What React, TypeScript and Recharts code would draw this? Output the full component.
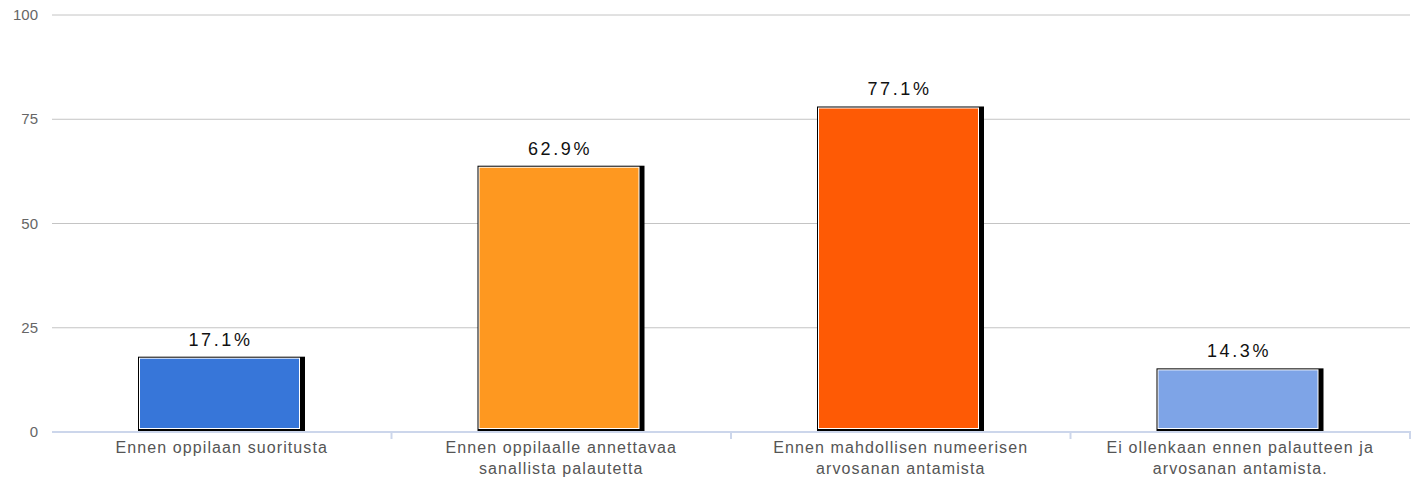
import { Bar, BarChart, CartesianGrid, LabelList, XAxis, YAxis } from "recharts";

const categories = [
  ["Ennen oppilaan suoritusta"],
  ["Ennen oppilaalle annettavaa", "sanallista palautetta"],
  ["Ennen mahdollisen numeerisen", "arvosanan antamista"],
  ["Ei ollenkaan ennen palautteen ja", "arvosanan antamista."]
];
const shares = [17.1, 62.9, 77.1, 14.3];
const barColors = ["#3776d9", "#fe9820", "#fe5a05", "#7ea4e7"];
const yTicks = [0, 25, 50, 75, 100];

const data = categories.map((lines, i) => ({
  name: lines.join(" "),
  lines,
  value: shares[i],
  color: barColors[i]
}));

const FONT = '"Liberation Sans", Arial, sans-serif';

// outlined bar with a heavy black edge on the right, like the original
const OutlinedBar = (props: any) => {
  const { x, y, width, height, payload } = props;
  const bottom = y + height;
  return (
    <g>
      <rect x={x} y={y - 4} width={width} height={bottom - 1 - (y - 4)} fill="#000" />
      <rect x={x + 1} y={y - 3} width={width - 6} height={bottom - 3 - (y - 3)} fill="#fff" />
      <rect x={x + 2} y={y - 2} width={width - 8} height={bottom - 4 - (y - 2)} fill={payload.color} />
    </g>
  );
};

const CategoryTick = (props: any) => {
  const { x, y, payload, index } = props;
  const lines = data[index]?.lines ?? [payload.value];
  const half = 339.5 / 2;
  return (
    <g>
      <line x1={x + half} x2={x + half} y1={y - 9} y2={y - 1} stroke="#ccd6eb" strokeWidth={2} />
      <text x={x} y={y + 13} textAnchor="middle" fontFamily={FONT} fontSize={16} fill="#555" letterSpacing={1.1}>
        {lines.map((line: string, i: number) => (
          <tspan key={i} x={x} dy={i === 0 ? 0 : 21}>
            {line}
          </tspan>
        ))}
      </text>
    </g>
  );
};

const ValueTick = (props: any) => {
  const { y, payload } = props;
  return (
    <text x={38} y={y + 5} textAnchor="end" fontFamily={FONT} fontSize={15} fill="#666">
      {payload.value}
    </text>
  );
};

const ValueLabel = (props: any) => {
  const { x, y, width, value } = props;
  return (
    <text
      x={x + width / 2 - 1}
      y={y - 15}
      textAnchor="middle"
      fontFamily={FONT}
      fontSize={18}
      fill="#111"
      letterSpacing={2.6}
    >
      {value}%
    </text>
  );
};

export default function App() {
  return (
    <div style={{ position: "absolute", left: 0, top: 0, width: 1417, height: 493, background: "#fff" }}>
      <BarChart width={1417} height={493} data={data} margin={{ top: 15, right: 7, bottom: 0, left: 0 }} barSize={167}>
        <CartesianGrid horizontal vertical={false} stroke="#c4c4c4" horizontalValues={[25, 50, 75, 100]} />
        <YAxis
          width={52}
          domain={[0, 100]}
          ticks={yTicks}
          axisLine={false}
          tickLine={false}
          tick={<ValueTick />}
        />
        <XAxis
          dataKey="name"
          height={61}
          axisLine={{ stroke: "#ccd6eb", strokeWidth: 2 }}
          tickLine={false}
          interval={0}
          tick={<CategoryTick />}
        />
        <Bar dataKey="value" shape={<OutlinedBar />} isAnimationActive={false}>
          <LabelList dataKey="value" content={<ValueLabel />} />
        </Bar>
      </BarChart>
    </div>
  );
}
